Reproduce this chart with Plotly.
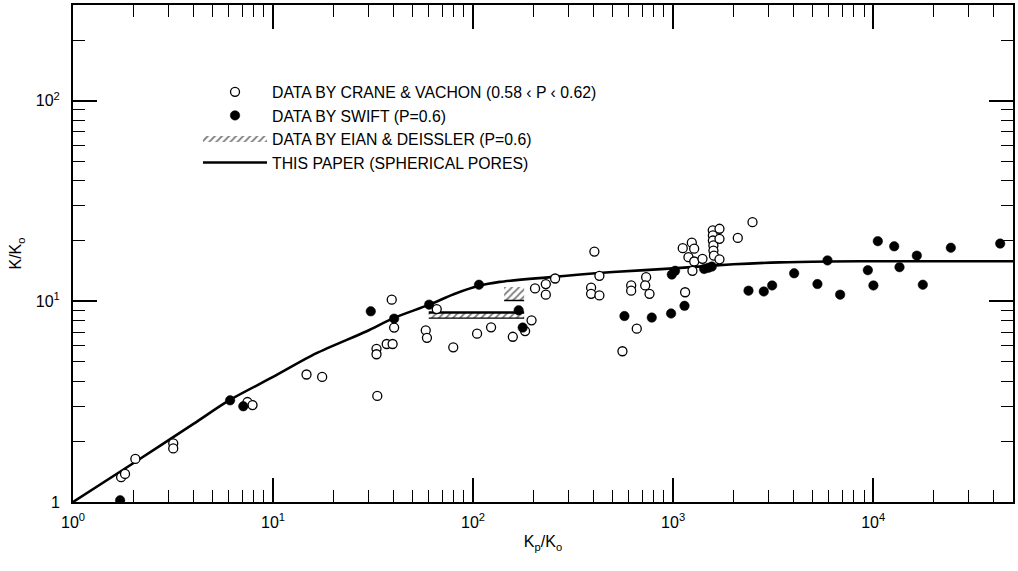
import plotly.graph_objects as go

# ---------------- data ----------------
crane_x = [1.74, 1.82, 2.05, 3.17, 3.17, 7.45, 7.9, 14.7, 17.6,
           33.2, 39.2, 40.3, 32.9, 32.9, 37.0, 39.6, 58, 58.8, 65.8, 79.6,
           104.7, 123, 158, 182, 196, 204, 231, 231, 257,
           404, 428, 389, 389, 428, 617, 617, 558, 658, 733, 725, 762,
           1148, 1249, 1117, 1240, 1274, 1193, 1275, 1402, 1578, 1705,
           1580, 1580, 1590, 1590, 1600, 1705, 1705, 2105, 2493]
crane_y = [1.33, 1.38, 1.64, 1.96, 1.85, 3.15, 3.04, 4.32, 4.2,
           3.38, 10.2, 7.4, 5.8, 5.45, 6.13, 6.13, 7.17, 6.58, 9.15, 5.9,
           6.9, 7.42, 6.66, 7.11, 8.04, 11.6, 12.2, 10.8, 13.0,
           17.7, 13.4, 11.7, 10.9, 10.7, 12.0, 11.3, 5.64, 7.31, 13.2, 12.0, 10.9,
           11.1, 14.2, 18.4, 19.6, 18.3, 16.6, 15.8, 16.3, 22.6, 23.0,
           21.3, 20.1, 19.0, 17.9, 16.9, 20.5, 16.2, 20.7, 24.8]

swift_x = [1.72, 6.1, 7.1, 30.8, 40.3, 60.3, 107, 169, 177,
           571, 782, 977, 1140, 985, 1023, 1429, 1497, 1560,
           2381, 2839, 3126, 4027, 5266, 5912, 6839, 9404, 10030,
           10550, 12740, 13540, 16530, 17710, 24450, 43150]
swift_y = [1.02, 3.21, 3.0, 8.92, 8.2, 9.63, 12.1, 9.02, 7.4,
           8.45, 8.3, 8.7, 9.5, 13.6, 14.2, 14.5, 14.7, 14.9,
           11.3, 11.2, 12.0, 13.8, 12.2, 16.0, 10.8, 14.3, 12.0,
           19.95, 18.8, 14.8, 16.9, 12.1, 18.5, 19.4]

# Eian & Deissler hatched ranges
eian_band_x = [60, 180]
eian_band_y = [8.25, 8.8]
eian_box_x = [143, 180]
eian_box_y = [10.1, 11.8]

# this paper (spherical pores)
curve_x = [1, 2, 4, 6, 10, 16.4, 29.4, 40, 60, 80, 107, 136, 243, 343,
           500, 1000, 2000, 3400, 6000, 10000, 50000]
curve_y = [1, 1.56, 2.45, 3.2, 4.2, 5.5, 7.1, 8.25, 9.6, 10.85, 11.95, 12.5,
           13.2, 13.6, 14.0, 14.6, 15.3, 15.65, 15.8, 15.85, 15.85]

x_tickvals = [1, 10, 100, 1000, 10000]
x_ticktext = ["10<sup>0</sup>", "10<sup>1</sup>", "10<sup>2</sup>",
              "10<sup>3</sup>", "10<sup>4</sup>"]
y_tickvals = [1, 10, 100]
y_ticktext = ["1", "10<sup>1</sup>", "10<sup>2</sup>"]

names = ["DATA BY CRANE & VACHON (0.58 \u2039 P \u2039 0.62)",
         "DATA BY SWIFT (P=0.6)",
         "DATA BY EIAN & DEISSLER (P=0.6)",
         "THIS PAPER (SPHERICAL PORES)"]

FONT = "Liberation Sans, Arial, Helvetica, sans-serif"

# ---------------- figure ----------------
fig = go.Figure()

# hatched polygons (band + small box)
hx = [eian_band_x[0], eian_band_x[1], eian_band_x[1], eian_band_x[0], eian_band_x[0], None,
      eian_box_x[0], eian_box_x[1], eian_box_x[1], eian_box_x[0], eian_box_x[0]]
hy = [eian_band_y[0], eian_band_y[0], eian_band_y[1], eian_band_y[1], eian_band_y[0], None,
      eian_box_y[0], eian_box_y[0], eian_box_y[1], eian_box_y[1], eian_box_y[0]]
fig.add_trace(go.Scatter(
    x=hx, y=hy, mode="none", fill="toself",
    fillcolor="white",
    fillpattern=dict(shape="/", fgcolor="black", bgcolor="white", size=5, solidity=0.35),
    name=names[2], legendrank=3, legendgroup="g3"))
# edges of the Eian & Deissler marks
fig.add_trace(go.Scatter(x=eian_band_x, y=[eian_band_y[1]] * 2, mode="lines",
                         line=dict(color="black", width=2.5), showlegend=False, hoverinfo="skip"))
fig.add_trace(go.Scatter(x=eian_band_x, y=[eian_band_y[0]] * 2, mode="lines",
                         line=dict(color="black", width=1.2), showlegend=False, hoverinfo="skip"))
fig.add_trace(go.Scatter(x=eian_box_x, y=[eian_box_y[0]] * 2, mode="lines",
                         line=dict(color="black", width=1.5), showlegend=False, hoverinfo="skip"))

fig.add_trace(go.Scatter(
    x=curve_x, y=curve_y, mode="lines",
    line=dict(color="black", width=2.6, shape="spline", smoothing=0.8),
    name=names[3], legendrank=4, legendgroup="g4"))

fig.add_trace(go.Scatter(
    x=crane_x, y=crane_y, mode="markers",
    marker=dict(symbol="circle", size=9, color="white", line=dict(color="black", width=1.3)),
    name=names[0], legendrank=1, legendgroup="g1"))

fig.add_trace(go.Scatter(
    x=swift_x, y=swift_y, mode="markers",
    marker=dict(symbol="circle", size=9.5, color="black", line=dict(color="black", width=0.5)),
    name=names[1], legendrank=2, legendgroup="g2"))

minor_x = [m * 10 ** d for d in range(0, 5) for m in range(2, 10) if m * 10 ** d <= 50000]
minor_y = [m * 10 ** d for d in range(0, 3) for m in range(2, 10) if m * 10 ** d <= 300]

axis_common = dict(
    type="log", showgrid=False, zeroline=False,
    showline=True, linecolor="black", linewidth=2, mirror="ticks",
    ticks="inside", ticklen=24, tickwidth=1.6, tickcolor="black",
    tickfont=dict(family=FONT, size=16, color="black"),
)

fig.update_xaxes(
    **axis_common,
    range=[0, 4.699],
    tickmode="array", tickvals=x_tickvals, ticktext=x_ticktext,
    minor=dict(tickmode="array", tickvals=minor_x, ticks="inside", ticklen=12,
               tickwidth=1.4, tickcolor="black", showgrid=False),
    title=dict(text="K<sub>p</sub>/K<sub>o</sub>", font=dict(family=FONT, size=16, color="black"),
               standoff=6),
    ticklabelstandoff=5,
)
fig.update_yaxes(
    **axis_common,
    range=[0, 2.477],
    tickmode="array", tickvals=y_tickvals, ticktext=y_ticktext,
    minor=dict(tickmode="array", tickvals=minor_y, ticks="inside", ticklen=12,
               tickwidth=1.4, tickcolor="black", showgrid=False),
    title=dict(text="K/K<sub>o</sub>", font=dict(family=FONT, size=16, color="black"),
               standoff=10),
    ticklabelstandoff=8,
)

fig.update_layout(
    width=1018, height=571,
    margin=dict(l=73, r=3, t=4, b=69, pad=0),
    paper_bgcolor="white", plot_bgcolor="white",
    font=dict(family=FONT, size=16, color="black"),
    showlegend=True,
    legend=dict(
        x=0.133, y=0.859, xanchor="left", yanchor="top",
        bgcolor="rgba(0,0,0,0)", borderwidth=0,
        itemwidth=64, tracegroupgap=0,
        font=dict(family=FONT, size=15.8, color="black"),
        traceorder="grouped",
    ),
)

fig.write_html("out.html", config={"displayModeBar": False},
               post_script="document.body.style.margin='0';")
